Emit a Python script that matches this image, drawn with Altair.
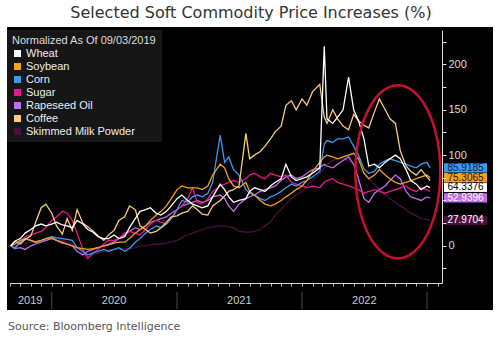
import altair as alt
import numpy as np
import pandas as pd

# ---------------- data ----------------
dates = [
    "2019-09-03", "2019-09-15", "2019-10-01", "2019-10-15", "2019-11-01", "2019-11-15", "2019-12-01", "2019-12-15",
    "2020-01-01", "2020-01-15", "2020-02-01", "2020-02-15", "2020-03-01", "2020-03-15", "2020-04-01", "2020-04-15",
    "2020-05-01", "2020-05-15", "2020-06-01", "2020-06-15", "2020-07-01", "2020-07-15", "2020-08-01", "2020-08-15",
    "2020-09-01", "2020-09-15", "2020-10-01", "2020-10-15", "2020-11-01", "2020-11-15", "2020-12-01", "2020-12-15",
    "2021-01-01", "2021-01-15", "2021-02-01", "2021-02-15", "2021-03-01", "2021-03-15", "2021-04-01", "2021-04-15",
    "2021-05-07", "2021-05-20", "2021-06-01", "2021-06-15", "2021-07-01", "2021-07-21", "2021-08-01", "2021-08-15",
    "2021-09-01", "2021-09-15", "2021-10-01", "2021-10-15", "2021-11-01", "2021-11-15", "2021-12-01", "2021-12-15",
    "2022-01-01", "2022-01-15", "2022-02-01", "2022-02-22", "2022-03-07", "2022-03-15", "2022-04-01", "2022-04-15",
    "2022-05-01", "2022-05-17", "2022-06-01", "2022-06-15", "2022-07-01", "2022-07-15", "2022-08-01", "2022-08-15",
    "2022-09-01", "2022-09-15", "2022-10-01", "2022-10-15", "2022-11-01", "2022-11-15", "2022-12-01", "2022-12-15",
    "2023-01-01", "2023-01-10",
]

wheat = [0, 5, 8, 14, 18, 22, 24, 22,
         24, 26, 23, 22, 20, 28, 24, 18,
         15, 10, 8, 8, 12, 8, 10, 20,
         30, 38, 40, 42, 36, 34, 38, 44,
         52, 56, 50, 46, 44, 42, 44, 54,
         68, 62, 54, 48, 50, 52, 60, 64,
         62, 60, 66, 70, 74, 90, 76, 72,
         74, 76, 80, 86, 220, 140, 135, 142,
         150, 186, 150, 138, 118, 88, 90, 86,
         92, 96, 100, 96, 84, 72, 68, 62,
         66, 64]

soybean = [0, 2, 6, 8, 6, 4, 6, 8,
           9, 6, 3, 2, 0, -2, -3, -4,
           -3, -2, 0, 1, 3, 4, 4, 8,
           14, 18, 22, 28, 34, 38, 44, 52,
           62, 66, 64, 64, 64, 62, 66, 78,
           90, 86, 74, 66, 64, 70, 60, 56,
           50, 46, 44, 46, 50, 54, 58, 62,
           66, 72, 82, 92, 98, 100, 98, 96,
           98, 100, 102, 96, 80, 74, 78, 84,
           78, 74, 70, 68, 70, 72, 74, 76,
           78, 75]

corn = [0, -3, 4, 8, 6, 4, 6, 8,
        10, 9, 8, 7, 6, -2, -6, -10,
        -8, -6, -4, -6, -4, -2, -6, -3,
        4, 8, 14, 18, 22, 20, 24, 30,
        40, 50, 48, 54, 56, 54, 58, 70,
        122, 92, 98, 84, 78, 62, 58, 56,
        52, 50, 54, 56, 60, 64, 68, 66,
        70, 72, 76, 82, 112, 116, 114, 118,
        118, 120, 110, 100, 85, 80, 82, 90,
        94, 96, 94, 92, 90, 88, 86, 90,
        92, 86]

sugar = [0, -2, 4, 10, 12, 14, 16, 20,
         28, 32, 38, 36, 28, 14, -4, -14,
         -8, -4, 2, 6, 6, 8, 14, 16,
         14, 12, 18, 24, 28, 26, 24, 30,
         40, 44, 52, 64, 48, 46, 52, 60,
         66, 68, 70, 72, 70, 74, 78, 80,
         76, 74, 80, 78, 76, 78, 70, 68,
         66, 64, 66, 64, 70, 72, 74, 70,
         68, 66, 64, 62, 58, 60, 62, 60,
         58, 60, 62, 64, 66, 62, 60, 64,
         62, 60]

rapeseed = [0, -3, -2, -4, 0, 2, 4, 6,
            8, 6, 4, 2, 0, -6, -10, -6,
            -4, -2, 0, 2, 4, 8, 12, 16,
            20, 18, 22, 26, 28, 30, 32, 36,
            40, 44, 46, 48, 50, 48, 50, 54,
            56, 52, 44, 38, 46, 52, 54, 56,
            60, 62, 64, 66, 72, 76, 78, 74,
            76, 80, 84, 86, 90, 88, 86, 90,
            94, 98, 90, 74, 52, 48, 58, 62,
            66, 72, 78, 74, 60, 54, 52, 50,
            54, 53]

coffee = [0, 5, 2, 7, 11, 26, 42, 46,
          36, 22, 13, 30, 17, 40, 25, 21,
          16, 11, 6, 12, 17, 28, 32, 44,
          40, 22, 18, 14, 16, 20, 26, 32,
          33, 36, 38, 44, 40, 35, 34, 44,
          50, 55, 60, 62, 66, 124, 96, 100,
          104, 110, 118, 126, 132, 155, 160, 150,
          162, 155, 170, 178, 142, 135, 150, 140,
          132, 128, 145, 138, 133, 130, 148, 162,
          150, 140, 135, 105, 88, 82, 78, 84,
          76, 72]

skim_milk = [0, 1, 2, 3, 4, 5, 6, 6,
             8, 8, 6, 4, 2, -2, -8, -12,
             -10, -8, -6, -5, -4, -4, -3, -3,
             -2, 0, 0, 1, 2, 2, 3, 4,
             6, 9, 12, 14, 16, 18, 20, 21,
             22, 22, 21, 20, 16, 15, 15, 16,
             18, 22, 26, 34, 40, 46, 52, 56,
             60, 66, 72, 80, 86, 90, 94, 96,
             96, 94, 90, 86, 80, 74, 68, 62,
             56, 52, 48, 44, 40, 36, 33, 30,
             29, 28]

series_names = ["Wheat", "Soybean", "Corn", "Sugar", "Rapeseed Oil", "Coffee", "Skimmed Milk Powder"]
series_colors = ["#FFFFFF", "#F5A11C", "#3A9BEE", "#E8168C", "#C46CF0", "#F9CB7A", "#4B0F3F"]

last_values = [85.9185, 75.3065, 64.3376, 52.9396, 27.9704]
last_texts = ["85.9185", "75.3065", "64.3376", "52.9396", "27.9704"]
last_fill = ["#3A9BEE", "#F5A11C", "#FFFFFF", "#C46CF0", "#4B0F3F"]
last_text_color = ["#0B1E45", "#2A1800", "#000000", "#FFFFFF", "#FFFFFF"]

year_labels = ["2019", "2020", "2021", "2022"]
year_label_dates = ["2019-10-30", "2020-07-01", "2021-07-02", "2022-07-02"]
year_breaks = ["2020-01-01", "2021-01-01", "2022-01-01", "2023-01-01"]

right_axis_ticks = [-25, 0, 25, 50, 75, 100, 125, 150, 175, 200, 225]

title_text = "Selected Soft Commodity Price Increases (%)"
source_text = "Source: Bloomberg Intelligence"
legend_title = "Normalized As Of 09/03/2019"

# ---------------- build tables ----------------
values_by_name = {
    "Wheat": wheat, "Soybean": soybean, "Corn": corn, "Sugar": sugar,
    "Rapeseed Oil": rapeseed, "Coffee": coffee, "Skimmed Milk Powder": skim_milk,
}
draw_order = ["Skimmed Milk Powder", "Rapeseed Oil", "Sugar", "Corn", "Soybean", "Coffee", "Wheat"]
rows = []
for k, name in enumerate(draw_order):
    for d, v in zip(dates, values_by_name[name]):
        rows.append({"date": d, "series": name, "value": v, "k": k})
df = pd.DataFrame(rows)

# annotation ellipse (in data coordinates)
ell_center = pd.Timestamp("2022-10-08")
ell_rx_days = 124
ell_cy = 81.6
ell_ry = 95.4
tt = np.linspace(0, 2 * np.pi, 121)
ell = pd.DataFrame({
    "d": [(ell_center + pd.Timedelta(days=float(ell_rx_days * np.cos(a)))).isoformat() for a in tt],
    "v": ell_cy + ell_ry * np.sin(tt),
    "i": np.arange(len(tt)),
})

lab = pd.DataFrame({"v": last_values, "t": last_texts, "f": last_fill, "c": last_text_color})
years = pd.DataFrame({"d": year_label_dates, "t": year_labels})
breaks = pd.DataFrame({"d": year_breaks})
one = pd.DataFrame({"a": [0]})

month_ticks = []
y0, m0 = 2019, 9
while (y0, m0) <= (2023, 2):
    month_ticks.append(alt.DateTime(year=y0, month=m0, date=1))
    m0 += 1
    if m0 > 12:
        m0 = 1
        y0 += 1

xscale = alt.Scale(domain=[alt.DateTime(year=2019, month=9, date=1),
                           alt.DateTime(year=2023, month=2, date=14)])
yscale = alt.Scale(domain=[-41, 238], nice=False, zero=False)

FONT = "Liberation Sans"

xaxis = alt.Axis(values=month_ticks, labels=False, ticks=True, tickSize=3, title=None,
                 tickColor="#BBBBBB", domainColor="#DDDDDD", grid=False, zindex=1)
yaxis = alt.Axis(orient="right", values=right_axis_ticks, title=None,
                 labelExpr="(datum.value==0||datum.value==100||datum.value==150||datum.value==200)?datum.label:''",
                 tickSize=4, tickColor="#DDDDDD", domainColor="#DDDDDD",
                 labelColor="#DDDDDD", labelFont=FONT, labelFontSize=11,
                 labelPadding=2, grid=False, labelOverlap=False, zindex=1)

color_scale = alt.Scale(domain=series_names, range=series_colors)

panel = alt.Chart(one).mark_rect(color="#000000").encode(
    x=alt.value(-3), x2=alt.value(483), y=alt.value(-3), y2=alt.value(280)
)

# invisible layer providing the filled-square legend
legend_layer = alt.Chart(df).transform_filter("datum.value > 100000").mark_square(
    size=49, filled=True, opacity=1
).encode(
    x=alt.X("date:T", scale=xscale, axis=xaxis),
    y=alt.Y("value:Q", scale=yscale, axis=yaxis),
    color=alt.Color("series:N", scale=color_scale,
                    legend=alt.Legend(title=legend_title, orient="none", legendX=-3, legendY=0,
                                      fillColor="#161616", padding=5,
                                      symbolType="square", symbolSize=49, symbolStrokeWidth=0,
                                      titleFont=FONT, titleFontSize=11, titleFontWeight="normal",
                                      titleColor="#DDDDDD", titlePadding=2,
                                      labelFont=FONT, labelFontSize=11, labelColor="#EEEEEE",
                                      rowPadding=1, labelOffset=3)),
)

lines = alt.Chart(df).mark_line(strokeWidth=1.3).encode(
    x=alt.X("date:T", scale=xscale, axis=xaxis),
    y=alt.Y("value:Q", scale=yscale, axis=yaxis),
    color=alt.Color("series:N", scale=color_scale, legend=None),
    detail="k:N",
)

ellipse = alt.Chart(ell).mark_line(color="#C8102E", strokeWidth=2.5).encode(
    x=alt.X("d:T", scale=xscale, axis=xaxis),
    y=alt.Y("v:Q", scale=yscale, axis=yaxis),
    order="i:Q",
)

seps = alt.Chart(breaks).mark_rule(color="#4A4A4A", strokeWidth=1).encode(
    x=alt.X("d:T", scale=xscale, axis=xaxis), y=alt.value(262), y2=alt.value(279)
)

year_text = alt.Chart(years).mark_text(font=FONT, fontSize=11, color="#CCCCCC",
                                       align="center", baseline="middle").encode(
    x=alt.X("d:T", scale=xscale, axis=xaxis), y=alt.value(271), text="t:N"
)

lab_rect = alt.Chart(lab).transform_calculate(lo="datum.v - 5.1", hi="datum.v + 5.1").mark_rect().encode(
    x=alt.value(434), x2=alt.value(477),
    y=alt.Y("lo:Q", scale=yscale, axis=yaxis), y2="hi:Q",
    fill=alt.Fill("f:N", scale=None),
)
lab_text = alt.Chart(lab).mark_text(font=FONT, fontSize=10, align="center", baseline="middle").encode(
    x=alt.value(455.5), y=alt.Y("v:Q", scale=yscale, axis=yaxis), text="t:N",
    fill=alt.Fill("c:N", scale=None),
)

title = alt.Chart(pd.DataFrame({"t": [title_text]})).mark_text(
    font="DejaVu Sans", fontSize=16, color="#333333", align="center", baseline="middle"
).encode(x=alt.value(241), y=alt.value(-17), text="t:N")

source = alt.Chart(pd.DataFrame({"t": [source_text]})).mark_text(
    font="DejaVu Sans", fontSize=11, color="#555555", align="left", baseline="middle"
).encode(x=alt.value(-2), y=alt.value(297), text="t:N")

chart = alt.layer(panel, legend_layer, lines, ellipse, seps, year_text, lab_rect, lab_text, title, source).properties(
    width=432, height=253,
    autosize=alt.AutoSizeParams(type="none"),
    padding={"left": 10, "top": 30, "right": 58, "bottom": 58},
    background="#FFFFFF",
).configure_view(stroke=None)

chart.save("out.html", embed_options={"renderer": "svg", "actions": False})
